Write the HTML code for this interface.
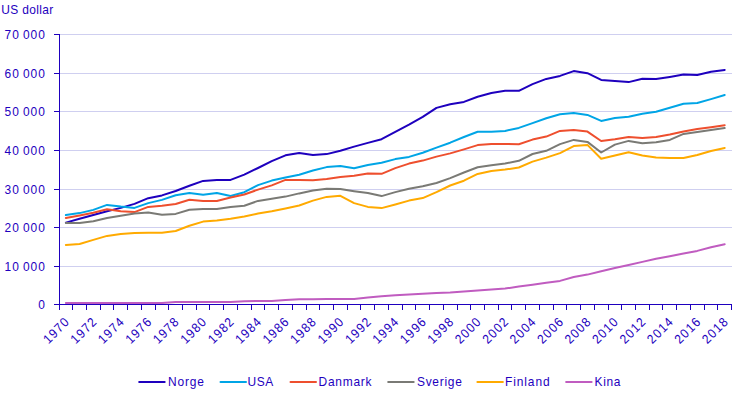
<!DOCTYPE html>
<html><head><meta charset="utf-8"><style>
html,body{margin:0;padding:0;background:#fff;width:755px;height:402px;overflow:hidden;position:relative}
.t{font-family:"Liberation Sans",sans-serif;font-size:13px;fill:#1e00be}
</style></head><body>
<svg width="755" height="402" viewBox="0 0 755 402" style="position:absolute;left:0;top:0"><line x1="60" x2="732" y1="34.5" y2="34.5" stroke="#cfcff0" stroke-width="1"/><line x1="60" x2="732" y1="73.5" y2="73.5" stroke="#cfcff0" stroke-width="1"/><line x1="60" x2="732" y1="111.5" y2="111.5" stroke="#cfcff0" stroke-width="1"/><line x1="60" x2="732" y1="150.5" y2="150.5" stroke="#cfcff0" stroke-width="1"/><line x1="60" x2="732" y1="189.5" y2="189.5" stroke="#cfcff0" stroke-width="1"/><line x1="60" x2="732" y1="227.5" y2="227.5" stroke="#cfcff0" stroke-width="1"/><line x1="60" x2="732" y1="266.5" y2="266.5" stroke="#cfcff0" stroke-width="1"/><polyline points="65.86,222.60 79.59,218.80 93.31,215.00 107.04,211.30 120.77,207.90 134.49,203.90 148.22,198.20 161.94,195.40 175.67,191.00 189.40,185.80 203.12,180.90 216.85,180.10 230.58,179.90 244.30,174.60 258.03,168.00 271.75,161.20 285.48,155.30 299.21,152.90 312.93,155.10 326.66,154.10 340.38,150.70 354.11,146.60 367.84,142.90 381.56,139.20 395.29,131.80 409.01,124.60 422.74,116.90 436.47,107.90 450.19,104.20 463.92,101.90 477.64,96.70 491.37,93.00 505.10,90.80 518.82,90.80 532.55,84.10 546.27,78.90 560.00,75.90 573.73,71.10 587.45,73.20 601.18,79.90 614.90,80.90 628.63,82.10 642.36,78.70 656.08,79.00 669.81,76.90 683.53,74.60 697.26,74.90 710.99,71.80 724.71,70.00" fill="none" stroke="#1e00be" stroke-width="2" stroke-linejoin="round" stroke-linecap="round"/><polyline points="65.86,215.10 79.59,213.10 93.31,209.90 107.04,204.90 120.77,206.60 134.49,207.90 148.22,203.10 161.94,199.90 175.67,195.20 189.40,193.00 203.12,194.80 216.85,193.00 230.58,196.00 244.30,192.20 258.03,185.10 271.75,180.60 285.48,177.60 299.21,174.80 312.93,170.50 326.66,167.10 340.38,166.00 354.11,168.30 367.84,165.00 381.56,162.80 395.29,159.10 409.01,156.90 422.74,152.70 436.47,147.60 450.19,142.70 463.92,137.00 477.64,131.80 491.37,131.80 505.10,130.90 518.82,127.90 532.55,123.10 546.27,118.20 560.00,114.20 573.73,113.10 587.45,114.90 601.18,120.90 614.90,117.90 628.63,116.70 642.36,113.70 656.08,111.80 669.81,107.80 683.53,103.70 697.26,103.00 710.99,99.10 724.71,95.00" fill="none" stroke="#00a5e6" stroke-width="2" stroke-linejoin="round" stroke-linecap="round"/><polyline points="65.86,218.10 79.59,215.50 93.31,212.80 107.04,209.20 120.77,211.20 134.49,212.10 148.22,206.90 161.94,205.80 175.67,204.00 189.40,199.70 203.12,201.00 216.85,201.00 230.58,197.50 244.30,194.50 258.03,189.60 271.75,185.40 285.48,179.90 299.21,179.90 312.93,180.20 326.66,179.00 340.38,176.90 354.11,175.70 367.84,173.50 381.56,173.80 395.29,168.10 409.01,163.60 422.74,160.60 436.47,156.60 450.19,153.40 463.92,149.40 477.64,145.10 491.37,144.10 505.10,144.00 518.82,144.20 532.55,139.60 546.27,136.60 560.00,130.90 573.73,130.10 587.45,131.60 601.18,141.00 614.90,139.20 628.63,136.90 642.36,137.90 656.08,137.00 669.81,134.60 683.53,131.60 697.26,129.10 710.99,127.20 724.71,125.20" fill="none" stroke="#ee4f2e" stroke-width="2" stroke-linejoin="round" stroke-linecap="round"/><polyline points="65.86,223.00 79.59,223.00 93.31,221.20 107.04,218.00 120.77,215.80 134.49,213.60 148.22,212.50 161.94,214.80 175.67,213.90 189.40,209.70 203.12,209.00 216.85,209.00 230.58,206.90 244.30,205.70 258.03,200.90 271.75,198.70 285.48,196.60 299.21,193.40 312.93,190.60 326.66,188.70 340.38,189.00 354.11,191.20 367.84,193.10 381.56,196.10 395.29,192.10 409.01,188.80 422.74,186.30 436.47,183.00 450.19,178.10 463.92,172.50 477.64,167.30 491.37,165.30 505.10,163.60 518.82,160.80 532.55,154.00 546.27,150.80 560.00,144.10 573.73,139.90 587.45,141.90 601.18,152.50 614.90,144.60 628.63,140.90 642.36,143.20 656.08,142.30 669.81,139.90 683.53,133.90 697.26,132.00 710.99,129.90 724.71,128.10" fill="none" stroke="#7a7a75" stroke-width="2" stroke-linejoin="round" stroke-linecap="round"/><polyline points="65.86,244.90 79.59,244.00 93.31,239.90 107.04,235.90 120.77,234.00 134.49,232.90 148.22,232.80 161.94,232.80 175.67,231.00 189.40,225.80 203.12,221.60 216.85,220.60 230.58,218.80 244.30,216.60 258.03,213.60 271.75,211.30 285.48,208.50 299.21,205.50 312.93,200.60 326.66,196.90 340.38,195.80 354.11,203.10 367.84,206.90 381.56,208.10 395.29,204.50 409.01,200.60 422.74,198.10 436.47,192.10 450.19,185.50 463.92,180.70 477.64,173.90 491.37,170.90 505.10,169.60 518.82,167.50 532.55,161.60 546.27,157.60 560.00,153.10 573.73,146.10 587.45,144.90 601.18,158.80 614.90,155.50 628.63,152.30 642.36,155.50 656.08,157.50 669.81,158.10 683.53,158.10 697.26,155.00 710.99,151.00 724.71,148.00" fill="none" stroke="#ffaa00" stroke-width="2" stroke-linejoin="round" stroke-linecap="round"/><polyline points="65.86,302.90 79.59,302.90 93.31,302.90 107.04,302.90 120.77,302.90 134.49,302.90 148.22,302.90 161.94,302.90 175.67,301.90 189.40,301.90 203.12,301.90 216.85,301.90 230.58,301.90 244.30,301.20 258.03,300.90 271.75,300.90 285.48,299.90 299.21,299.30 312.93,299.20 326.66,299.00 340.38,299.00 354.11,298.90 367.84,297.50 381.56,296.20 395.29,295.30 409.01,294.40 422.74,293.80 436.47,293.10 450.19,292.60 463.92,291.50 477.64,290.40 491.37,289.40 505.10,288.60 518.82,286.50 532.55,284.80 546.27,282.80 560.00,280.90 573.73,277.00 587.45,274.60 601.18,271.30 614.90,268.00 628.63,265.10 642.36,261.90 656.08,258.80 669.81,256.20 683.53,253.40 697.26,250.90 710.99,247.20 724.71,244.20" fill="none" stroke="#c05cc0" stroke-width="2" stroke-linejoin="round" stroke-linecap="round"/><line x1="59.5" x2="59.5" y1="34" y2="305" stroke="#1e00be" stroke-width="1"/><line x1="54" x2="60" y1="34.5" y2="34.5" stroke="#1e00be" stroke-width="1"/><line x1="54" x2="60" y1="73.5" y2="73.5" stroke="#1e00be" stroke-width="1"/><line x1="54" x2="60" y1="111.5" y2="111.5" stroke="#1e00be" stroke-width="1"/><line x1="54" x2="60" y1="150.5" y2="150.5" stroke="#1e00be" stroke-width="1"/><line x1="54" x2="60" y1="189.5" y2="189.5" stroke="#1e00be" stroke-width="1"/><line x1="54" x2="60" y1="227.5" y2="227.5" stroke="#1e00be" stroke-width="1"/><line x1="54" x2="60" y1="266.5" y2="266.5" stroke="#1e00be" stroke-width="1"/><line x1="54" x2="60" y1="304.5" y2="304.5" stroke="#1e00be" stroke-width="1"/><line x1="59" x2="732" y1="304.5" y2="304.5" stroke="#1e00be" stroke-width="1"/><line x1="59.5" x2="59.5" y1="304" y2="310" stroke="#1e00be" stroke-width="1"/><line x1="72.5" x2="72.5" y1="304" y2="310" stroke="#1e00be" stroke-width="1"/><line x1="86.5" x2="86.5" y1="304" y2="310" stroke="#1e00be" stroke-width="1"/><line x1="100.5" x2="100.5" y1="304" y2="310" stroke="#1e00be" stroke-width="1"/><line x1="113.5" x2="113.5" y1="304" y2="310" stroke="#1e00be" stroke-width="1"/><line x1="127.5" x2="127.5" y1="304" y2="310" stroke="#1e00be" stroke-width="1"/><line x1="141.5" x2="141.5" y1="304" y2="310" stroke="#1e00be" stroke-width="1"/><line x1="155.5" x2="155.5" y1="304" y2="310" stroke="#1e00be" stroke-width="1"/><line x1="168.5" x2="168.5" y1="304" y2="310" stroke="#1e00be" stroke-width="1"/><line x1="182.5" x2="182.5" y1="304" y2="310" stroke="#1e00be" stroke-width="1"/><line x1="196.5" x2="196.5" y1="304" y2="310" stroke="#1e00be" stroke-width="1"/><line x1="209.5" x2="209.5" y1="304" y2="310" stroke="#1e00be" stroke-width="1"/><line x1="223.5" x2="223.5" y1="304" y2="310" stroke="#1e00be" stroke-width="1"/><line x1="237.5" x2="237.5" y1="304" y2="310" stroke="#1e00be" stroke-width="1"/><line x1="251.5" x2="251.5" y1="304" y2="310" stroke="#1e00be" stroke-width="1"/><line x1="264.5" x2="264.5" y1="304" y2="310" stroke="#1e00be" stroke-width="1"/><line x1="278.5" x2="278.5" y1="304" y2="310" stroke="#1e00be" stroke-width="1"/><line x1="292.5" x2="292.5" y1="304" y2="310" stroke="#1e00be" stroke-width="1"/><line x1="306.5" x2="306.5" y1="304" y2="310" stroke="#1e00be" stroke-width="1"/><line x1="319.5" x2="319.5" y1="304" y2="310" stroke="#1e00be" stroke-width="1"/><line x1="333.5" x2="333.5" y1="304" y2="310" stroke="#1e00be" stroke-width="1"/><line x1="347.5" x2="347.5" y1="304" y2="310" stroke="#1e00be" stroke-width="1"/><line x1="360.5" x2="360.5" y1="304" y2="310" stroke="#1e00be" stroke-width="1"/><line x1="374.5" x2="374.5" y1="304" y2="310" stroke="#1e00be" stroke-width="1"/><line x1="388.5" x2="388.5" y1="304" y2="310" stroke="#1e00be" stroke-width="1"/><line x1="402.5" x2="402.5" y1="304" y2="310" stroke="#1e00be" stroke-width="1"/><line x1="415.5" x2="415.5" y1="304" y2="310" stroke="#1e00be" stroke-width="1"/><line x1="429.5" x2="429.5" y1="304" y2="310" stroke="#1e00be" stroke-width="1"/><line x1="443.5" x2="443.5" y1="304" y2="310" stroke="#1e00be" stroke-width="1"/><line x1="457.5" x2="457.5" y1="304" y2="310" stroke="#1e00be" stroke-width="1"/><line x1="470.5" x2="470.5" y1="304" y2="310" stroke="#1e00be" stroke-width="1"/><line x1="484.5" x2="484.5" y1="304" y2="310" stroke="#1e00be" stroke-width="1"/><line x1="498.5" x2="498.5" y1="304" y2="310" stroke="#1e00be" stroke-width="1"/><line x1="511.5" x2="511.5" y1="304" y2="310" stroke="#1e00be" stroke-width="1"/><line x1="525.5" x2="525.5" y1="304" y2="310" stroke="#1e00be" stroke-width="1"/><line x1="539.5" x2="539.5" y1="304" y2="310" stroke="#1e00be" stroke-width="1"/><line x1="553.5" x2="553.5" y1="304" y2="310" stroke="#1e00be" stroke-width="1"/><line x1="566.5" x2="566.5" y1="304" y2="310" stroke="#1e00be" stroke-width="1"/><line x1="580.5" x2="580.5" y1="304" y2="310" stroke="#1e00be" stroke-width="1"/><line x1="594.5" x2="594.5" y1="304" y2="310" stroke="#1e00be" stroke-width="1"/><line x1="608.5" x2="608.5" y1="304" y2="310" stroke="#1e00be" stroke-width="1"/><line x1="621.5" x2="621.5" y1="304" y2="310" stroke="#1e00be" stroke-width="1"/><line x1="635.5" x2="635.5" y1="304" y2="310" stroke="#1e00be" stroke-width="1"/><line x1="649.5" x2="649.5" y1="304" y2="310" stroke="#1e00be" stroke-width="1"/><line x1="662.5" x2="662.5" y1="304" y2="310" stroke="#1e00be" stroke-width="1"/><line x1="676.5" x2="676.5" y1="304" y2="310" stroke="#1e00be" stroke-width="1"/><line x1="690.5" x2="690.5" y1="304" y2="310" stroke="#1e00be" stroke-width="1"/><line x1="704.5" x2="704.5" y1="304" y2="310" stroke="#1e00be" stroke-width="1"/><line x1="717.5" x2="717.5" y1="304" y2="310" stroke="#1e00be" stroke-width="1"/><line x1="731.5" x2="731.5" y1="304" y2="310" stroke="#1e00be" stroke-width="1"/><text transform="translate(44.80,39.00) scale(0.92,1)" text-anchor="end" textLength="43.70" lengthAdjust="spacing" class="t">70 000</text><text transform="translate(44.80,78.00) scale(0.92,1)" text-anchor="end" textLength="43.70" lengthAdjust="spacing" class="t">60 000</text><text transform="translate(44.80,116.00) scale(0.92,1)" text-anchor="end" textLength="43.70" lengthAdjust="spacing" class="t">50 000</text><text transform="translate(44.80,155.00) scale(0.92,1)" text-anchor="end" textLength="43.70" lengthAdjust="spacing" class="t">40 000</text><text transform="translate(44.80,194.00) scale(0.92,1)" text-anchor="end" textLength="43.70" lengthAdjust="spacing" class="t">30 000</text><text transform="translate(44.80,232.00) scale(0.92,1)" text-anchor="end" textLength="43.70" lengthAdjust="spacing" class="t">20 000</text><text transform="translate(44.80,271.00) scale(0.92,1)" text-anchor="end" textLength="43.70" lengthAdjust="spacing" class="t">10 000</text><text transform="translate(44.80,309.00) scale(0.92,1)" text-anchor="end" class="t">0</text><text transform="translate(69.76,323.10) rotate(-45) scale(0.92,1)" text-anchor="end" textLength="32.83" lengthAdjust="spacing" class="t">1970</text><text transform="translate(97.22,323.10) rotate(-45) scale(0.92,1)" text-anchor="end" textLength="32.83" lengthAdjust="spacing" class="t">1972</text><text transform="translate(124.67,323.10) rotate(-45) scale(0.92,1)" text-anchor="end" textLength="32.83" lengthAdjust="spacing" class="t">1974</text><text transform="translate(152.12,323.10) rotate(-45) scale(0.92,1)" text-anchor="end" textLength="32.83" lengthAdjust="spacing" class="t">1976</text><text transform="translate(179.57,323.10) rotate(-45) scale(0.92,1)" text-anchor="end" textLength="32.83" lengthAdjust="spacing" class="t">1978</text><text transform="translate(207.02,323.10) rotate(-45) scale(0.92,1)" text-anchor="end" textLength="32.83" lengthAdjust="spacing" class="t">1980</text><text transform="translate(234.48,323.10) rotate(-45) scale(0.92,1)" text-anchor="end" textLength="32.83" lengthAdjust="spacing" class="t">1982</text><text transform="translate(261.93,323.10) rotate(-45) scale(0.92,1)" text-anchor="end" textLength="32.83" lengthAdjust="spacing" class="t">1984</text><text transform="translate(289.38,323.10) rotate(-45) scale(0.92,1)" text-anchor="end" textLength="32.83" lengthAdjust="spacing" class="t">1986</text><text transform="translate(316.83,323.10) rotate(-45) scale(0.92,1)" text-anchor="end" textLength="32.83" lengthAdjust="spacing" class="t">1988</text><text transform="translate(344.28,323.10) rotate(-45) scale(0.92,1)" text-anchor="end" textLength="32.83" lengthAdjust="spacing" class="t">1990</text><text transform="translate(371.74,323.10) rotate(-45) scale(0.92,1)" text-anchor="end" textLength="32.83" lengthAdjust="spacing" class="t">1992</text><text transform="translate(399.19,323.10) rotate(-45) scale(0.92,1)" text-anchor="end" textLength="32.83" lengthAdjust="spacing" class="t">1994</text><text transform="translate(426.64,323.10) rotate(-45) scale(0.92,1)" text-anchor="end" textLength="32.83" lengthAdjust="spacing" class="t">1996</text><text transform="translate(454.09,323.10) rotate(-45) scale(0.92,1)" text-anchor="end" textLength="32.83" lengthAdjust="spacing" class="t">1998</text><text transform="translate(481.54,323.10) rotate(-45) scale(0.92,1)" text-anchor="end" textLength="32.83" lengthAdjust="spacing" class="t">2000</text><text transform="translate(509.00,323.10) rotate(-45) scale(0.92,1)" text-anchor="end" textLength="32.83" lengthAdjust="spacing" class="t">2002</text><text transform="translate(536.45,323.10) rotate(-45) scale(0.92,1)" text-anchor="end" textLength="32.83" lengthAdjust="spacing" class="t">2004</text><text transform="translate(563.90,323.10) rotate(-45) scale(0.92,1)" text-anchor="end" textLength="32.83" lengthAdjust="spacing" class="t">2006</text><text transform="translate(591.35,323.10) rotate(-45) scale(0.92,1)" text-anchor="end" textLength="32.83" lengthAdjust="spacing" class="t">2008</text><text transform="translate(618.80,323.10) rotate(-45) scale(0.92,1)" text-anchor="end" textLength="32.83" lengthAdjust="spacing" class="t">2010</text><text transform="translate(646.25,323.10) rotate(-45) scale(0.92,1)" text-anchor="end" textLength="32.83" lengthAdjust="spacing" class="t">2012</text><text transform="translate(673.71,323.10) rotate(-45) scale(0.92,1)" text-anchor="end" textLength="32.83" lengthAdjust="spacing" class="t">2014</text><text transform="translate(701.16,323.10) rotate(-45) scale(0.92,1)" text-anchor="end" textLength="32.83" lengthAdjust="spacing" class="t">2016</text><text transform="translate(728.61,323.10) rotate(-45) scale(0.92,1)" text-anchor="end" textLength="32.83" lengthAdjust="spacing" class="t">2018</text><text transform="translate(1.30,14.00) scale(0.92,1)" textLength="56.52" lengthAdjust="spacing" class="t">US dollar</text><line x1="139.2" x2="164.7" y1="382" y2="382" stroke="#1e00be" stroke-width="2" stroke-linecap="round"/><text transform="translate(168.00,386.00) scale(0.92,1)" textLength="39.02" lengthAdjust="spacing" class="t">Norge</text><line x1="220.5" x2="246.0" y1="382" y2="382" stroke="#00a5e6" stroke-width="2" stroke-linecap="round"/><text transform="translate(247.50,386.00) scale(0.92,1)" textLength="27.93" lengthAdjust="spacing" class="t">USA</text><line x1="290.5" x2="316.0" y1="382" y2="382" stroke="#ee4f2e" stroke-width="2" stroke-linecap="round"/><text transform="translate(318.50,386.00) scale(0.92,1)" textLength="57.72" lengthAdjust="spacing" class="t">Danmark</text><line x1="388.2" x2="413.7" y1="382" y2="382" stroke="#7a7a75" stroke-width="2" stroke-linecap="round"/><text transform="translate(417.00,386.00) scale(0.92,1)" textLength="48.70" lengthAdjust="spacing" class="t">Sverige</text><line x1="477.4" x2="502.9" y1="382" y2="382" stroke="#ffaa00" stroke-width="2" stroke-linecap="round"/><text transform="translate(505.00,386.00) scale(0.92,1)" textLength="48.48" lengthAdjust="spacing" class="t">Finland</text><line x1="566.1" x2="591.6" y1="382" y2="382" stroke="#c05cc0" stroke-width="2" stroke-linecap="round"/><text transform="translate(594.50,386.00) scale(0.92,1)" textLength="28.26" lengthAdjust="spacing" class="t">Kina</text></svg>
</body></html>
